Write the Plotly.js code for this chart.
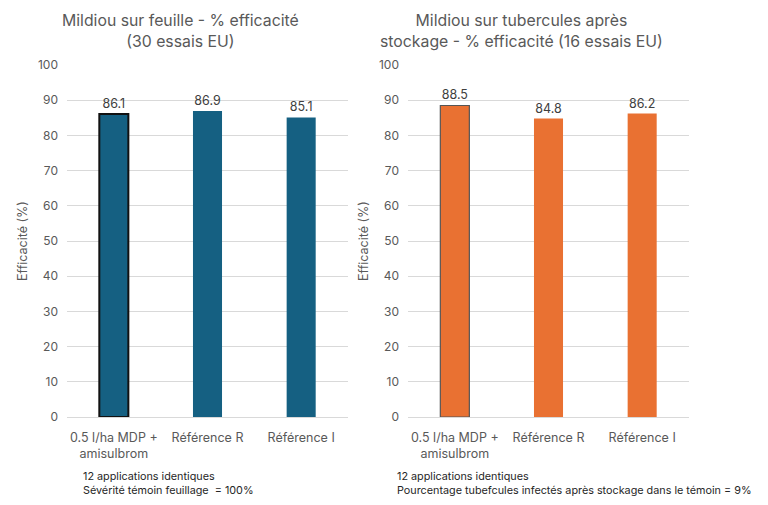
<!DOCTYPE html>
<html><head><meta charset="utf-8">
<script src="https://cdn.plot.ly/plotly-3.0.1.min.js"></script>
<style>body{margin:0;padding:0;background:#fff}#chart{width:768px;height:505px}</style>
</head><body><div id="chart"></div>
<script>
const categories = ["0.5 l/ha MDP +<br>amisulbrom", "Référence R", "Référence I"];
const leafValues = [86.1, 86.9, 85.1];
const tuberValues = [88.5, 84.8, 86.2];
const yTicks = [0,10,20,30,40,50,60,70,80,90,100];
const leftTitle = "Mildiou sur feuille - % efficacité<br>(30 essais EU)";
const rightTitle = "Mildiou sur tubercules après<br>stockage - % efficacité (16 essais EU)";
const yTitle = "Efficacité (%)";
const leftNote = "12 applications identiques<br>Sévérité témoin feuillage  = 100%";
const rightNote = "12 applications identiques<br>Pourcentage tubefcules infectés après stockage dans le témoin = 9%";

const FONT = "Inter, 'Open Sans', sans-serif";
const grey = "#595959";
const blue = "#156082", orange = "#E97132";

const traces = [
  {type:'bar', x:categories, y:leafValues, xaxis:'x', yaxis:'y', width:0.31,
   marker:{color:blue, line:{color:['#111','rgba(0,0,0,0)','rgba(0,0,0,0)'], width:[2,0,0]}},
   text:leafValues.map(v=>v.toFixed(1)), textposition:'outside', cliponaxis:false,
   textfont:{size:12.5, color:'#404040', family:FONT}, hoverinfo:'none'},
  {type:'bar', x:categories, y:tuberValues, xaxis:'x2', yaxis:'y2', width:0.31,
   marker:{color:orange, line:{color:['#555','rgba(0,0,0,0)','rgba(0,0,0,0)'], width:[1.2,0,0]}},
   text:tuberValues.map(v=>v.toFixed(1)), textposition:'outside', cliponaxis:false,
   textfont:{size:12.5, color:'#404040', family:FONT}, hoverinfo:'none'}
];

const yax = (anchor)=>({domain:[88/505, 440/505], range:[0,100], tickvals:yTicks, anchor:anchor,
  showgrid:true, gridcolor:'#d9d9d9', gridwidth:1, zeroline:true, zerolinecolor:'#d9d9d9', zerolinewidth:1,
  showline:false, ticks:'', ticklabelstandoff:8, tickfont:{size:12, color:grey, family:FONT}, fixedrange:true});
const xax = (dom, anchor)=>({domain:dom, anchor:anchor, showline:false, ticks:'', showgrid:false,
  ticklabelstandoff:11, tickfont:{size:12.5, color:grey, family:FONT}, fixedrange:true});

const layout = {
  width:768, height:505, margin:{l:0,r:0,t:0,b:0}, showlegend:false,
  paper_bgcolor:'#fff', plot_bgcolor:'#fff', bargap:0.69,
  font:{family:FONT, color:grey},
  xaxis: xax([67/768, 348/768], 'y'),
  yaxis: yax('x'),
  xaxis2: xax([408/768, 689/768], 'y2'),
  yaxis2: yax('x2'),
  annotations:[
    {text:leftTitle, xref:'paper', yref:'paper', x:180/768, y:(505-31)/505, xanchor:'center', yanchor:'middle', showarrow:false, font:{size:15.8, color:grey, family:FONT}},
    {text:rightTitle, xref:'paper', yref:'paper', x:521/768, y:(505-31)/505, xanchor:'center', yanchor:'middle', showarrow:false, font:{size:15.8, color:grey, family:FONT}},
    {text:yTitle, xref:'paper', yref:'paper', x:22/768, y:(505-241)/505, textangle:-90, xanchor:'center', yanchor:'middle', showarrow:false, font:{size:12.5, color:grey, family:FONT}},
    {text:yTitle, xref:'paper', yref:'paper', x:363/768, y:(505-241)/505, textangle:-90, xanchor:'center', yanchor:'middle', showarrow:false, font:{size:12.5, color:grey, family:FONT}},
    {text:leftNote, xref:'paper', yref:'paper', x:81/768, y:(505-483)/505, xanchor:'left', yanchor:'middle', align:'left', showarrow:false, font:{size:10.8, color:'#262626', family:FONT}},
    {text:rightNote, xref:'paper', yref:'paper', x:395/768, y:(505-483)/505, xanchor:'left', yanchor:'middle', align:'left', showarrow:false, font:{size:10.8, color:'#262626', family:FONT}}
  ]
};
Plotly.newPlot('chart', traces, layout, {staticPlot:true, displayModeBar:false});
</script></body></html>
